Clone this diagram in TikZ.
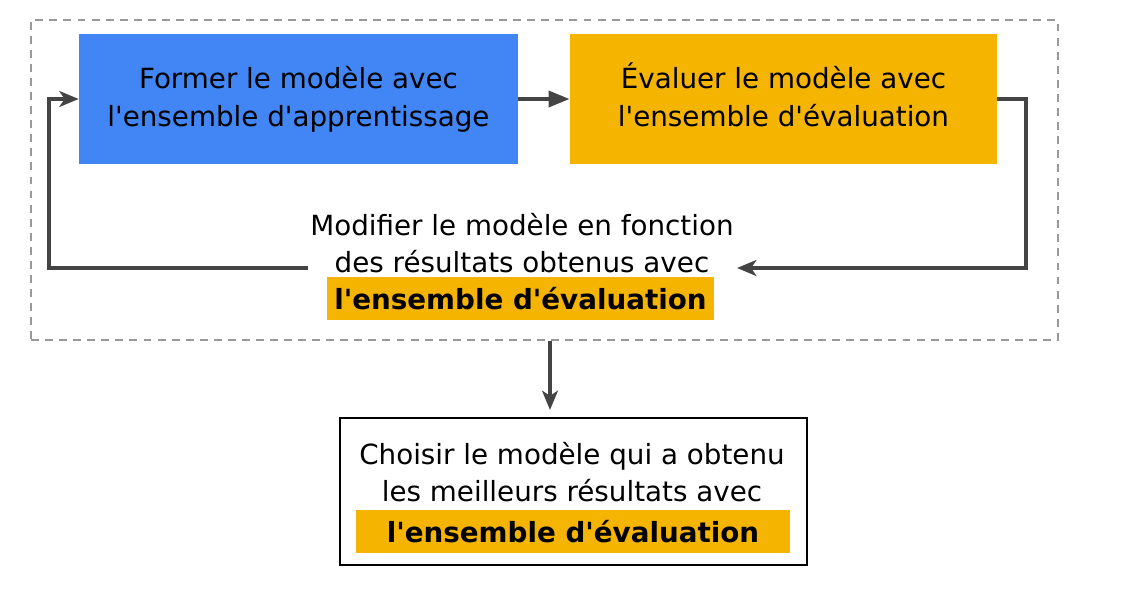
\documentclass[tikz,border=0pt]{standalone}
\usepackage{fontspec}
\setmainfont{DejaVu Sans}[Ligatures=TeXOff]
\usetikzlibrary{arrows.meta,positioning}
\definecolor{bleu}{HTML}{4285F4}
\definecolor{jaune}{HTML}{F4B400}
\definecolor{trait}{HTML}{444444}
\definecolor{gris}{HTML}{999999}
\begin{document}
\begin{tikzpicture}[x=0.02cm,y=-0.02cm,
  texte/.style={inner sep=0pt,align=center,font=\fontsize{15.8}{21.5}\selectfont},
  etape/.style={texte,minimum height=2.6cm},
  surligne/.style={fill=jaune,inner sep=0pt,minimum height=0.86cm,font=\fontsize{15.8}{21.5}\selectfont\bfseries},
  fleche/.style={draw=trait,line width=2.3pt,-{Stealth[length=11pt,width=9pt,inset=3pt]}},
  plein/.style={draw=trait,line width=2.3pt,-{Triangle[length=12pt,width=9pt]}}]
\useasboundingbox (0,0) rectangle (1134,589);
\node[draw=gris,dashed,dash pattern=on 4.5pt off 3.5pt,line width=1.3pt,inner sep=0pt,minimum width=20.54cm,minimum height=6.4cm] (cadre) at (544.5,180) {};
\node[etape,fill=bleu,minimum width=8.78cm] (former) at (298.5,99) {Former le modèle avec\\l'ensemble d'apprentissage};
\node[etape,fill=jaune,minimum width=8.54cm] (evaluer) at (783.5,99) {\smash{É}valuer le modèle avec\\l'ensemble d'évaluation\vphantom{p}};
\node[texte] (modifier) at (522,243) {Modifier le modèle en fonction\\des résultats obtenus avec};
\node[surligne,minimum width=7.74cm] (modifierhl) at (520.5,298.5) {l'ensemble d'évaluation};
\node[draw=black,line width=1.3pt,inner sep=0pt,minimum width=9.34cm,minimum height=2.94cm] (choix) at (573.5,491.5) {};
\node[texte] (choixtxt) at (572,472) {Choisir le modèle qui a obtenu\\les meilleurs résultats avec};
\node[surligne,minimum width=8.68cm] (choixhl) at (573,531.5) {l'ensemble d'évaluation};
\coordinate (retour) at (737,268);
\coordinate (depart) at (308,268);
\coordinate (bas) at (550,410);

\draw[plein] (former.east)--(evaluer.west);
\draw[fleche] (evaluer.east)--(1026,99)|-(retour);
\draw[fleche] (depart)--(49,268)|-(former.west);
\draw[fleche] (cadre.south -| bas)--(bas);
\end{tikzpicture}
\end{document}
